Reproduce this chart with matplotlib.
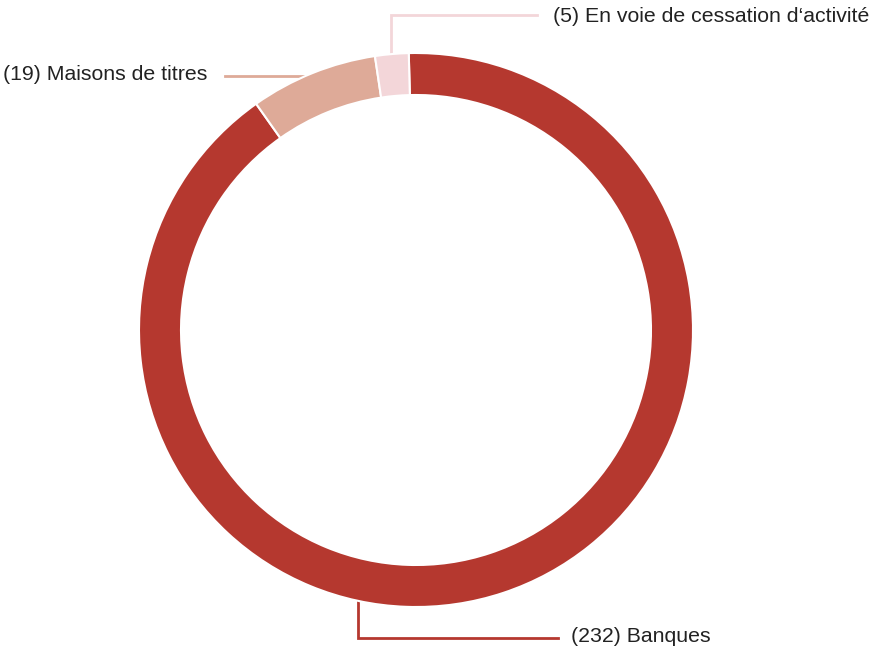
import matplotlib
matplotlib.use("Agg")
import matplotlib.pyplot as plt
import numpy as np

# Établissements par catégorie
categories = ["Banques", "Maisons de titres", "En voie de cessation d\u2018activité"]
counts = [232, 19, 5]
colors = ["#B5382F", "#DEAA98", "#F3D6D9"]

W, H = 871, 650
fig = plt.figure(figsize=(W / 100, H / 100), dpi=100)
ax = fig.add_axes([0, 0, 1, 1])

cx, cy = 416, H - 330
R = 277
ring = 42

ax.pie(counts, colors=colors, startangle=91.5, counterclock=False,
       center=(cx, cy), radius=R, frame=True,
       wedgeprops=dict(width=ring, edgecolor="white", linewidth=1.5))
ax.set_xlim(0, W)
ax.set_ylim(0, H)
ax.set_aspect("equal")
ax.axis("off")

font = dict(family=["Liberation Sans", "DejaVu Sans"], fontsize=15.3, color="#222222")

def on_circle_x(x, top=True):
    dy = np.sqrt(R ** 2 - (x - cx) ** 2)
    return cy + dy if top else cy - dy

def on_circle_y(y):
    dx = np.sqrt(R ** 2 - (y - cy) ** 2)
    return cx - dx

# Banques: leader from the bottom of the ring
bx = 358
by0 = on_circle_x(bx, top=False)
ax.plot([bx, bx, 558], [by0, H - 638, H - 638], color=colors[0], lw=2,
        solid_joinstyle="miter", zorder=0)
ax.text(571, H - 637, f"({counts[0]}) {categories[0]}", ha="left", va="center", **font)

# Maisons de titres: leader to the left
my = H - 76
ax.plot([225, on_circle_y(my)], [my, my], color=colors[1], lw=2, zorder=0)
ax.text(207, H - 75, f"({counts[1]}) {categories[1]}", ha="right", va="center", **font)

# En voie de cessation d'activité: leader up and to the right
px = 391
py0 = on_circle_x(px, top=True)
ax.plot([px, px, 537], [py0, H - 15, H - 15], color=colors[2], lw=2,
        solid_joinstyle="miter", zorder=0)
ax.text(553, H - 16, f"({counts[2]}) {categories[2]}", ha="left", va="center", **font)

fig.savefig("out.png", dpi=100)
